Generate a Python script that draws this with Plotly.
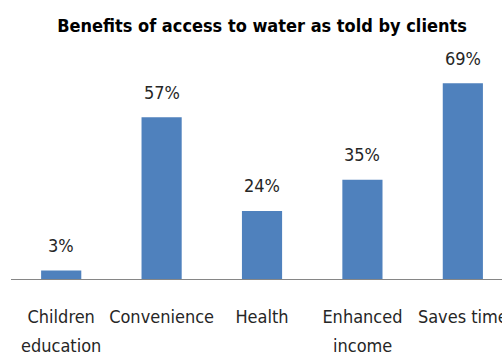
import plotly.graph_objects as go

categories = ["Children", "Convenience", "Health", "Enhanced", "Saves time"]
second_lines = ["education", "", "", "income", ""]
values = [3, 57, 24, 35, 69]
labels = ["3%", "57%", "24%", "35%", "69%"]

FONT = "DejaVu Sans Condensed, sans-serif"
TXT = "#262626"

fig = go.Figure()
fig.add_trace(go.Bar(
    x=list(range(len(categories))),
    y=values,
    width=0.4,
    marker=dict(color="#4F81BD", line=dict(width=0)),
    hoverinfo="skip",
))

for i, (v, t) in enumerate(zip(values, labels)):
    fig.add_annotation(x=i, y=v, text=t, showarrow=False, yanchor="middle",
                       yshift=25, font=dict(family=FONT, size=18, color=TXT))

for i, s in enumerate(second_lines):
    if s:
        fig.add_annotation(x=i, y=0, text=s, showarrow=False, yanchor="middle",
                           yshift=-66, font=dict(family=FONT, size=18, color=TXT))

fig.update_layout(
    width=502, height=356,
    margin=dict(l=11, r=0, t=40, b=77, autoexpand=False),
    paper_bgcolor="white", plot_bgcolor="white",
    showlegend=False,
    title=dict(text="<b>Benefits of access to water as told by clients</b>",
               x=0.522, xanchor="center", y=1 - 26/356, yanchor="middle",
               font=dict(family=FONT, size=18, color="#000000")),
    xaxis=dict(range=[-0.5, 4.39], tickmode="array",
               tickvals=list(range(len(categories))), ticktext=categories,
               showline=True, linecolor="#868686", linewidth=1,
               showgrid=False, zeroline=False, ticks="", tickangle=0, automargin=False,
               ticklabeloverflow="allow", ticklabelstandoff=21,
               tickfont=dict(family=FONT, size=18, color=TXT)),
    yaxis=dict(range=[0, 84.2], visible=False, showgrid=False, zeroline=False),
)

fig.write_html("out.html")
